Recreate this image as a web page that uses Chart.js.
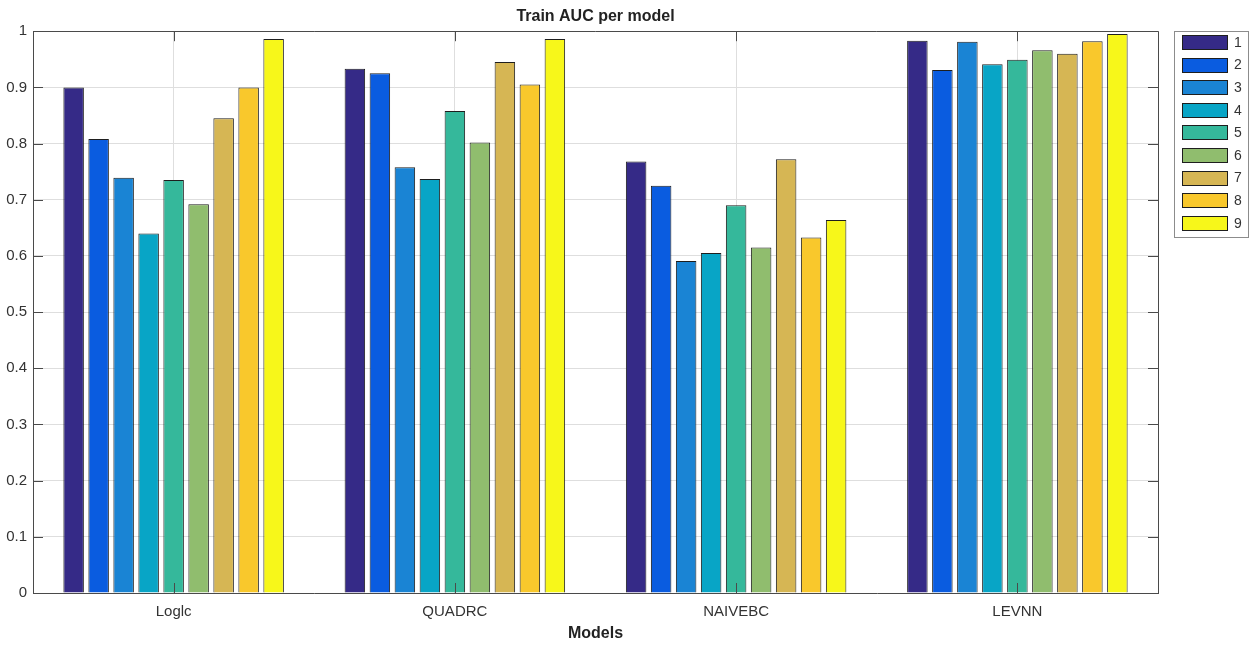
<!DOCTYPE html>
<html>
<head>
<meta charset="utf-8">
<script src="https://cdn.jsdelivr.net/npm/chart.js@4/dist/chart.umd.min.js"></script>
<style>
  html, body { margin: 0; padding: 0; background: #ffffff; }
  #wrap { width: 1252px; height: 646px; position: relative; }
</style>
</head>
<body>
<div id="wrap"><canvas id="c" width="1252" height="646"></canvas></div>
<script>
// ---- data ----
const categories = ['Loglc', 'QUADRC', 'NAIVEBC', 'LEVNN'];
const seriesNames = ['1', '2', '3', '4', '5', '6', '7', '8', '9'];
const s1 = [0.900, 0.933, 0.768, 0.983];
const s2 = [0.808, 0.925, 0.725, 0.931];
const s3 = [0.739, 0.758, 0.591, 0.981];
const s4 = [0.640, 0.737, 0.605, 0.941];
const s5 = [0.735, 0.858, 0.690, 0.949];
const s6 = [0.692, 0.802, 0.615, 0.966];
const s7 = [0.845, 0.945, 0.772, 0.960];
const s8 = [0.900, 0.905, 0.633, 0.982];
const s9 = [0.986, 0.986, 0.664, 0.995];
const seriesValues = [s1, s2, s3, s4, s5, s6, s7, s8, s9];
const seriesColors = ['#352a87', '#0a5ce0', '#1a84d4', '#08a5c6', '#35b89b', '#90bd6e', '#d6b654', '#f9c82c', '#f7f71a'];
const yMin = 0, yMax = 1, yStep = 0.1;
const chartTitle = 'Train AUC per model';
const xTitle = 'Models';

const FONT = '"Liberation Sans", Arial, Helvetica, sans-serif';
const AXIS_COLOR = '#4a4a4a';
const TEXT_COLOR = '#333333';

const datasets = seriesNames.map((n, i) => ({
  label: n,
  data: seriesValues[i],
  backgroundColor: seriesColors[i],
  borderColor: '#1e1e1e',
  borderWidth: 1,
  categoryPercentage: 0.8,
  barPercentage: 0.82
}));

const matlabDecor = {
  id: 'matlabDecor',
  afterDraw(chart) {
    const ctx = chart.ctx;
    const a = chart.chartArea;
    const xs = chart.scales.x, ys = chart.scales.y;
    ctx.save();
    ctx.strokeStyle = AXIS_COLOR;
    ctx.lineWidth = 1;
    // box top and right
    ctx.beginPath();
    ctx.moveTo(a.left, Math.round(a.top) + 0.5);
    ctx.lineTo(a.right, Math.round(a.top) + 0.5);
    ctx.moveTo(Math.round(a.right) + 0.5, a.top);
    ctx.lineTo(Math.round(a.right) + 0.5, a.bottom);
    ctx.stroke();
    // inward ticks
    const tl = 10;
    ctx.beginPath();
    ys.ticks.forEach(t => {
      const y = Math.round(ys.getPixelForValue(t.value)) + 0.5;
      ctx.moveTo(a.left, y); ctx.lineTo(a.left + tl, y);
      ctx.moveTo(a.right, y); ctx.lineTo(a.right - tl, y);
    });
    categories.forEach((c, i) => {
      const x = Math.round(xs.getPixelForValue(i)) + 0.5;
      ctx.moveTo(x, a.bottom); ctx.lineTo(x, a.bottom - tl);
      ctx.moveTo(x, a.top); ctx.lineTo(x, a.top + tl);
    });
    ctx.stroke();

    // legend
    const lx = 1174.5, ly = 31.5, lw = 74, lh = 206;
    ctx.fillStyle = '#ffffff';
    ctx.fillRect(lx, ly, lw, lh);
    ctx.strokeStyle = '#8c8c8c';
    ctx.strokeRect(lx, ly, lw, lh);
    ctx.font = '14px ' + FONT;
    ctx.textBaseline = 'middle';
    ctx.textAlign = 'left';
    chart.data.datasets.forEach((ds, i) => {
      const cy = 42 + i * 22.6;
      ctx.fillStyle = ds.backgroundColor;
      ctx.fillRect(1182.5, Math.round(cy - 7) + 0.5, 45, 14);
      ctx.strokeStyle = '#1e1e1e';
      ctx.strokeRect(1182.5, Math.round(cy - 7) + 0.5, 45, 14);
      ctx.fillStyle = TEXT_COLOR;
      ctx.fillText(ds.label, 1234, cy + 1);
    });
    ctx.restore();
  }
};

new Chart(document.getElementById('c'), {
  type: 'bar',
  data: { labels: categories, datasets },
  options: {
    responsive: false,
    maintainAspectRatio: false,
    devicePixelRatio: 1,
    animation: false,
    layout: { padding: { left: 0, right: 94, top: 0, bottom: 0 } },
    plugins: {
      legend: { display: false },
      tooltip: { enabled: false },
      title: {
        display: true,
        text: chartTitle,
        fullSize: false,
        color: '#222222',
        font: { family: FONT, size: 16, weight: 'bold', lineHeight: 1.2 },
        padding: { top: 7, bottom: 5 }
      }
    },
    scales: {
      x: {
        offset: true,
        grid: { display: true, offset: false, color: '#dedede', drawTicks: false, lineWidth: 1 },
        border: { display: true, color: AXIS_COLOR, width: 1 },
        ticks: { color: TEXT_COLOR, font: { family: FONT, size: 15 }, padding: 10, maxRotation: 0 },
        title: {
          display: true, text: xTitle, color: '#222222',
          font: { family: FONT, size: 16, weight: 'bold', lineHeight: 1.2 },
          padding: { top: 0, bottom: 3 }
        },
        afterFit(scale) { scale.height = 53; }
      },
      y: {
        min: yMin, max: yMax,
        grid: { color: '#dedede', drawTicks: false, lineWidth: 1 },
        border: { display: true, color: AXIS_COLOR, width: 1 },
        ticks: {
          stepSize: yStep, color: TEXT_COLOR, font: { family: FONT, size: 15 }, padding: 6,
          callback: v => String(Number(v.toFixed(1)))
        },
        afterFit(scale) { scale.width = 33; }
      }
    }
  },
  plugins: [matlabDecor]
});
</script>
</body>
</html>
